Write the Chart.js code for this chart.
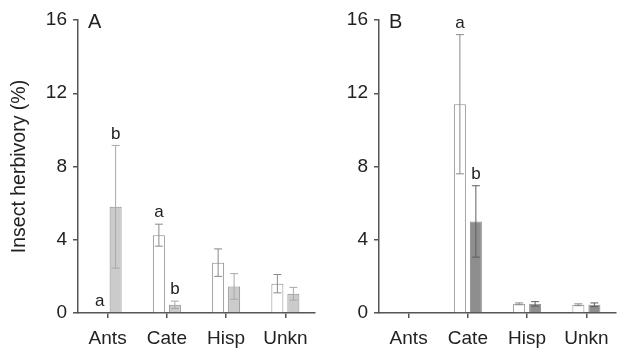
<!DOCTYPE html>
<html><head><meta charset="utf-8">
<script src="https://cdn.jsdelivr.net/npm/chart.js@4.4.1/dist/chart.umd.min.js"></script>
<style>
html,body{margin:0;padding:0;background:#fff;}
#wrap{position:relative;width:628px;height:358px;}
#ca{position:absolute;left:0;top:0;}
#cb{position:absolute;left:320px;top:0;}
</style></head><body>
<div id="wrap">
<div id="ca" style="width:320px;height:358px"><canvas id="chartA" width="320" height="358"></canvas></div>
<div id="cb" style="width:308px;height:358px"><canvas id="chartB" width="308" height="358"></canvas></div>
</div>
<script>
const categories = ['Ants', 'Cate', 'Hisp', 'Unkn'];
const yTicks = [0, 4, 8, 12, 16];

const aOpen = [0, 4.25, 2.75, 1.6];
const aOpenErr = [0, 0.6, 0.75, 0.5];
const aShaded = [5.8, 0.45, 1.45, 1.05];
const aShadedErr = [3.35, 0.2, 0.7, 0.35];
const aOpenLetters = ['a', 'a', '', ''];
const aShadedLetters = ['b', 'b', '', ''];

const bOpen = [0, 11.4, 0.5, 0.45];
const bOpenErr = [0, 3.8, 0.05, 0.05];
const bShaded = [0, 5.0, 0.5, 0.45];
const bShadedErr = [0, 1.95, 0.12, 0.1];
const bOpenLetters = ['', 'a', '', ''];
const bShadedLetters = ['', 'b', '', ''];

const FONT = '"Liberation Sans", Arial, Helvetica, sans-serif';

const errorPlugin = {
  id: 'errs',
  afterDatasetsDraw(chart) {
    const ctx = chart.ctx;
    const ys = chart.scales.y;
    chart.data.datasets.forEach((ds, i) => {
      const meta = chart.getDatasetMeta(i);
      meta.data.forEach((el, j) => {
        const v = ds.data[j], e = ds.err[j];
        const x = el.x;
        const yT = ys.getPixelForValue(v + e);
        const yB = ys.getPixelForValue(Math.max(0, v - e));
        ctx.save();
        if (e > 0) {
          ctx.strokeStyle = ds.errColor;
          ctx.lineWidth = 1;
          ctx.beginPath();
          ctx.moveTo(x, yB); ctx.lineTo(x, yT);
          ctx.moveTo(x - 4, yT); ctx.lineTo(x + 4, yT);
          if (v - e > 0) { ctx.moveTo(x - 4, yB); ctx.lineTo(x + 4, yB); }
          ctx.stroke();
        }
        const L = ds.letters[j];
        if (L) {
          ctx.fillStyle = '#222';
          ctx.font = '17px ' + FONT;
          ctx.textAlign = 'center';
          ctx.textBaseline = 'bottom';
          ctx.fillText(L, x, yT - 3);
        }
        ctx.restore();
      });
    });
    const pl = chart.options.plugins.panelLabel;
    ctx.save();
    ctx.fillStyle = '#222';
    ctx.font = '20px ' + FONT;
    ctx.textAlign = 'left';
    ctx.textBaseline = 'middle';
    ctx.fillText(pl.text, chart.chartArea.left + pl.dx, 22);
    ctx.restore();
  }
};

function makeChart(id, open, openErr, openL, shaded, shadedErr, shadedL, shadedFill, shadedErrColor, yWidth, rightPad, showTitle, label) {
  return new Chart(document.getElementById(id), {
    type: 'bar',
    data: {
      labels: categories,
      datasets: [
        { data: open, err: openErr, letters: openL, errColor: '#8a8a8a',
          backgroundColor: '#ffffff', borderColor: '#8c8c8c', borderWidth: 1 },
        { data: shaded, err: shadedErr, letters: shadedL, errColor: shadedErrColor,
          backgroundColor: shadedFill, borderColor: '#8c8c8c', borderWidth: 1 }
      ]
    },
    options: {
      responsive: false,
      animation: false,
      events: [],
      categoryPercentage: 0.54,
      barPercentage: 0.75,
      layout: { padding: { left: 0, right: rightPad, top: 20, bottom: 0 } },
      plugins: { legend: { display: false }, tooltip: { enabled: false }, panelLabel: { text: label, dx: 10 } },
      scales: {
        x: {
          offset: true,
          grid: { display: true, drawOnChartArea: false, offset: false, tickLength: 5, color: '#555', lineWidth: 1.5 },
          border: { display: true, color: '#555', width: 1.5 },
          ticks: { color: '#222', padding: 9, font: { size: 19, family: FONT } },
          afterFit(s) { s.height = 45; }
        },
        y: {
          min: 0, max: 16,
          afterBuildTicks(s) { s.ticks = yTicks.map(v => ({ value: v })); },
          grid: { display: true, drawOnChartArea: false, tickLength: 5, color: '#555', lineWidth: 1.5 },
          border: { display: true, color: '#555', width: 1.5 },
          ticks: { color: '#222', padding: 6, font: { size: 19, family: FONT } },
          title: { display: showTitle, text: 'Insect herbivory (%)', color: '#222', font: { size: 19.5, family: FONT }, padding: { top: 8, bottom: 4 } },
          afterFit(s) { s.width = yWidth; }
        }
      }
    },
    plugins: [errorPlugin]
  });
}

makeChart('chartA', aOpen, aOpenErr, aOpenLetters, aShaded, aShadedErr, aShadedLetters, '#cbcbcb', '#a8a8a8', 78, 5, true, 'A');
makeChart('chartB', bOpen, bOpenErr, bOpenLetters, bShaded, bShadedErr, bShadedLetters, '#8e8e8e', '#5e5e5e', 59, 12, false, 'B');
</script>
</body></html>
